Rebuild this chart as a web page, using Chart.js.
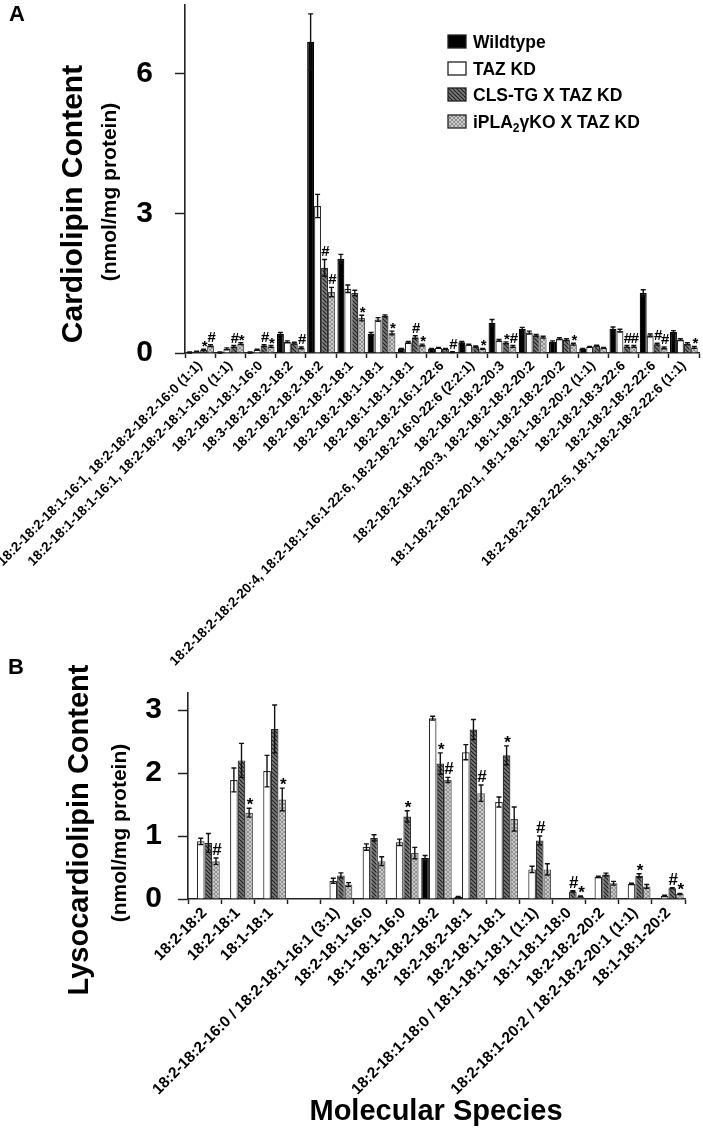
<!DOCTYPE html>
<html>
<head>
<meta charset="utf-8">
<script src="https://cdn.jsdelivr.net/npm/chart.js@4.4.0/dist/chart.umd.min.js"></script>
<style>
body { margin: 0; background: #fff; width: 703px; height: 1137px; overflow: hidden; position: relative; font-family: 'Liberation Sans', Arial, sans-serif; }
canvas { position: absolute; left: 0; }
#chartA { top: 0; }
#chartB { top: 600px; }
.lbl { position: absolute; font-weight: bold; color: #000; white-space: nowrap; line-height: 1; }
.rot { transform: translate(-50%, -50%) rotate(-90deg); }
</style>
</head>
<body>
<canvas id="chartA" width="703" height="680"></canvas>
<canvas id="chartB" width="703" height="537"></canvas>

<div class="lbl" style="left:9px;top:3px;font-size:22px">A</div>
<div class="lbl rot" style="left:72px;top:204px;font-size:30px">Cardiolipin Content</div>
<div class="lbl rot" style="left:108px;top:192px;font-size:21px">(nmol/mg protein)</div>

<div class="lbl" style="left:8px;top:656px;font-size:22px">B</div>
<div class="lbl rot" style="left:78px;top:830px;font-size:29px">Lysocardiolipin Content</div>
<div class="lbl rot" style="left:118px;top:833px;font-size:21px">(nmol/mg protein)</div>
<div class="lbl" style="left:436px;top:1110px;font-size:29px;transform:translate(-50%,-50%)">Molecular Species</div>

<script>
// ---- panel A: cardiolipin ----
var labelsA = [
  "18:2-18:2-18:1-16:1, 18:2-18:2-18:2-16:0 (1:1)",
  "18:2-18:1-18:1-16:1, 18:2-18:2-18:1-16:0 (1:1)",
  "18:2-18:1-18:1-16:0",
  "18:3-18:2-18:2-18:2",
  "18:2-18:2-18:2-18:2",
  "18:2-18:2-18:2-18:1",
  "18:2-18:2-18:1-18:1",
  "18:2-18:1-18:1-18:1",
  "18:2-18:2-16:1-22:6",
  "18:2-18:2-18:2-20:4, 18:2-18:1-16:1-22:6, 18:2-18:2-16:0-22:6 (2:2:1)",
  "18:2-18:2-18:2-20:3",
  "18:2-18:2-18:1-20:3, 18:2-18:2-18:2-20:2",
  "18:1-18:2-18:2-20:2",
  "18:1-18:2-18:2-20:1, 18:1-18:1-18:2-20:2 (1:1)",
  "18:2-18:2-18:3-22:6",
  "18:2-18:2-18:2-22:6",
  "18:2-18:2-18:2-22:5, 18:1-18:2-18:2-22:6 (1:1)"
];
var wtA   = [0.01, 0.01, 0.01, 0.41, 6.69, 2.02, 0.41, 0.09, 0.09, 0.23, 0.65, 0.52, 0.24, 0.09, 0.52, 1.29, 0.45];
var tazA  = [0.03, 0.09, 0.07, 0.24, 3.16, 1.38, 0.72, 0.23, 0.11, 0.18, 0.27, 0.44, 0.31, 0.13, 0.48, 0.38, 0.29];
var clsA  = [0.07, 0.14, 0.16, 0.21, 1.83, 1.29, 0.80, 0.34, 0.09, 0.14, 0.22, 0.38, 0.29, 0.16, 0.14, 0.19, 0.20];
var iplaA = [0.16, 0.20, 0.14, 0.11, 1.31, 0.75, 0.43, 0.17, 0.02, 0.09, 0.14, 0.34, 0.19, 0.11, 0.14, 0.11, 0.12];
var wtAErr   = [0.01, 0.01, 0.01, 0.03, 0.60, 0.10, 0.03, 0.01, 0.01, 0.02, 0.07, 0.03, 0.02, 0.01, 0.04, 0.07, 0.03];
var tazAErr  = [0.01, 0.02, 0.01, 0.02, 0.25, 0.08, 0.04, 0.02, 0.01, 0.01, 0.02, 0.03, 0.02, 0.01, 0.03, 0.03, 0.02];
var clsAErr  = [0.01, 0.02, 0.02, 0.02, 0.18, 0.06, 0.02, 0.03, 0.01, 0.01, 0.02, 0.02, 0.02, 0.01, 0.02, 0.02, 0.02];
var iplaAErr = [0.02, 0.02, 0.02, 0.02, 0.10, 0.06, 0.04, 0.02, 0.01, 0.01, 0.02, 0.02, 0.02, 0.01, 0.02, 0.02, 0.02];
var clsAMarks  = ["*", "#", "#", "", "#", "", "", "#", "", "", "*", "", "", "", "#", "#", ""];
var iplaAMarks = ["#", "*", "*", "#", "#", "*", "*", "*", "#", "*", "#", "", "*", "", "#", "#", "*"];
var yTicksA = [0, 3, 6];

// ---- panel B: lysocardiolipin ----
var labelsB = [
  "18:2-18:2",
  "18:2-18:1",
  "18:1-18:1",
  "",
  "18:2-18:2-16:0 / 18:2-18:1-16:1 (3:1)",
  "18:2-18:1-16:0",
  "18:1-18:1-16:0",
  "18:2-18:2-18:2",
  "18:2-18:2-18:1",
  "18:2-18:1-18:1",
  "18:2-18:1-18:0 / 18:1-18:1-18:1 (1:1)",
  "18:1-18:1-18:0",
  "18:2-18:2-20:2",
  "18:2-18:1-20:2 / 18:2-18:2-20:1 (1:1)",
  "18:1-18:1-20:2"
];
var wtB   = [null, null, null, null, null, null, null, 0.65, 0.03, null, null, null, null, null, null];
var tazB  = [0.915, 1.89, 2.03, null, 0.29, 0.825, 0.90, 2.87, 2.33, 1.54, 0.47, 0.01, 0.35, 0.24, 0.05];
var clsB  = [0.89, 2.20, 2.70, null, 0.375, 0.97, 1.31, 2.15, 2.69, 2.28, 0.93, 0.12, 0.39, 0.37, 0.17];
var iplaB = [0.60, 1.37, 1.58, null, 0.23, 0.60, 0.73, 1.89, 1.68, 1.27, 0.47, 0.04, 0.25, 0.20, 0.08];
var wtBErr   = [0, 0, 0, 0, 0, 0, 0, 0.04, 0.01, 0, 0, 0, 0, 0, 0];
var tazBErr  = [0.05, 0.19, 0.25, 0, 0.04, 0.05, 0.05, 0.03, 0.12, 0.08, 0.05, 0, 0.01, 0.01, 0.01];
var clsBErr  = [0.15, 0.27, 0.38, 0, 0.04, 0.05, 0.09, 0.17, 0.16, 0.15, 0.07, 0.01, 0.02, 0.03, 0.01];
var iplaBErr = [0.05, 0.07, 0.18, 0, 0.03, 0.07, 0.09, 0.04, 0.13, 0.19, 0.09, 0.01, 0.03, 0.03, 0.01];
var clsBMarks  = ["", "", "", "", "", "", "*", "*", "", "*", "#", "#", "", "*", "#"];
var iplaBMarks = ["#", "*", "*", "", "", "", "", "#", "#", "", "", "*", "", "", "*"];
var yTicksB = [0, 1, 2, 3];

var seriesNames = ["Wildtype", "TAZ KD", "CLS-TG X TAZ KD", "iPLA\u2082\u03B3KO X TAZ KD"];
var FONT = "'Liberation Sans', Arial, sans-serif";

function hatch(bg, fg, cross) {
  var c = document.createElement("canvas");
  c.width = 4; c.height = 4;
  var g = c.getContext("2d");
  g.fillStyle = bg;
  g.fillRect(0, 0, 4, 4);
  g.strokeStyle = fg;
  g.lineWidth = 1.1;
  g.beginPath();
  g.moveTo(-1, -1); g.lineTo(5, 5);
  g.moveTo(-1, 3); g.lineTo(1, 5);
  g.moveTo(3, -1); g.lineTo(5, 1);
  if (cross) {
    g.moveTo(5, -1); g.lineTo(-1, 5);
    g.moveTo(1, -1); g.lineTo(-1, 1);
    g.moveTo(5, 3); g.lineTo(3, 5);
  }
  g.stroke();
  return g.createPattern(c, "repeat");
}

var fills = ["#000000", "#ffffff", hatch("#7c7c7c", "#1e1e1e", false), hatch("#e2e2e2", "#8c8c8c", true)];
var borders = ["#000000", "#2a2a2a", "#2a2a2a", "#555555"];

function makeSets(values, errors, marks) {
  return values.map(function (v, i) {
    return {
      label: seriesNames[i],
      data: v,
      errors: errors[i],
      marks: marks[i],
      backgroundColor: fills[i],
      borderColor: borders[i],
      borderWidth: 1.2,
      borderSkipped: "bottom",
      categoryPercentage: 0.92,
      barPercentage: 1.0
    };
  });
}

var errorBars = {
  id: "errorBars",
  afterDatasetsDraw: function (chart, args, opts) {
    var ctx = chart.ctx, y = chart.scales.y;
    ctx.save();
    chart.data.datasets.forEach(function (ds, i) {
      chart.getDatasetMeta(i).data.forEach(function (bar, j) {
        var v = ds.data[j];
        if (v == null) return;
        var e = ds.errors[j] || 0;
        var top = y.getPixelForValue(v + e);
        if (e > 0) {
          var bot = y.getPixelForValue(Math.max(v - e, 0));
          var cap = 2.5;
          ctx.strokeStyle = "#111";
          ctx.lineWidth = 1.4;
          ctx.beginPath();
          ctx.moveTo(bar.x, top); ctx.lineTo(bar.x, bot);
          ctx.moveTo(bar.x - cap, top); ctx.lineTo(bar.x + cap, top);
          ctx.moveTo(bar.x - cap, bot); ctx.lineTo(bar.x + cap, bot);
          ctx.stroke();
        }
        var m = ds.marks[j];
        if (m) {
          ctx.fillStyle = "#000";
          ctx.textAlign = "center";
          ctx.textBaseline = "alphabetic";
          ctx.font = "bold " + (m === "*" ? opts.star : opts.hash) + "px " + FONT;
          ctx.fillText(m, bar.x + 1, top - (m === "*" ? -2 : 3));
        }
      });
    });
    ctx.restore();
  }
};

var legendA = {
  id: "legendA",
  afterDraw: function (chart) {
    var ctx = chart.ctx;
    var rows = [35, 62, 88, 115];
    ctx.save();
    chart.data.datasets.forEach(function (ds, i) {
      var top = rows[i];
      ctx.fillStyle = ds.backgroundColor;
      ctx.fillRect(448, top, 18, 13);
      ctx.strokeStyle = "#222";
      ctx.lineWidth = 1.3;
      ctx.strokeRect(448, top, 18, 13);
      ctx.fillStyle = "#000";
      ctx.textBaseline = "middle";
      ctx.textAlign = "left";
      var parts = ds.label.split("\u2082");
      var x = 473, ty = top + 8;
      ctx.font = "bold 17.5px " + FONT;
      ctx.fillText(parts[0], x, ty);
      if (parts.length > 1) {
        x += ctx.measureText(parts[0]).width;
        ctx.font = "bold 12px " + FONT;
        ctx.fillText("2", x, ty + 6);
        x += ctx.measureText("2").width;
        ctx.font = "bold 17.5px " + FONT;
        ctx.fillText(parts[1], x, ty);
      }
    });
    ctx.restore();
  }
};

function axes(opt) {
  return {
    x: {
      grid: { drawOnChartArea: false, drawTicks: true, tickLength: 5, tickColor: "#222", tickWidth: 1.5, offset: true },
      border: { color: "#222", width: 1.6 },
      ticks: { autoSkip: false, minRotation: 45, maxRotation: 45, padding: 0, color: "#000",
               font: { family: FONT, size: opt.labelSize, weight: "bold" } },
      afterFit: function (s) {
        s.height = opt.xHeight;
        s.paddingLeft = 0; s.paddingRight = 0; s.paddingTop = 0; s.paddingBottom = 0;
      }
    },
    y: {
      min: 0,
      max: opt.max,
      grid: { drawOnChartArea: false, drawTicks: true, tickLength: 10, tickColor: "#222", tickWidth: 1.5 },
      border: { color: "#222", width: 1.6 },
      ticks: { padding: opt.tickPad, color: "#000", font: { family: FONT, size: 30, weight: "bold" } },
      afterBuildTicks: function (s) {
        s.ticks = opt.ticks.map(function (v) { return { value: v }; });
      },
      afterFit: function (s) {
        s.width = opt.yWidth;
        s.paddingTop = 0; s.paddingBottom = 0;
      }
    }
  };
}

var chartA = new Chart(document.getElementById("chartA").getContext("2d"), {
  type: "bar",
  data: {
    labels: labelsA,
    datasets: makeSets([wtA, tazA, clsA, iplaA], [wtAErr, tazAErr, clsAErr, iplaAErr], [[], [], clsAMarks, iplaAMarks])
  },
  options: {
    responsive: false,
    animation: false,
    devicePixelRatio: 1,
    layout: { padding: { top: 5, right: 4, left: 0, bottom: 0 } },
    plugins: { legend: { display: false }, tooltip: { enabled: false }, errorBars: { hash: 15, star: 15 } },
    scales: axes({ max: 7.48, ticks: yTicksA, yWidth: 185, xHeight: 327, labelSize: 13.5, tickPad: 22 })
  },
  plugins: [errorBars, legendA]
});

var chartB = new Chart(document.getElementById("chartB").getContext("2d"), {
  type: "bar",
  data: {
    labels: labelsB,
    datasets: makeSets([wtB, tazB, clsB, iplaB], [wtBErr, tazBErr, clsBErr, iplaBErr], [[], [], clsBMarks, iplaBMarks])
  },
  options: {
    responsive: false,
    animation: false,
    devicePixelRatio: 1,
    layout: { padding: { top: 93, right: 18, left: 0, bottom: 0 } },
    plugins: { legend: { display: false }, tooltip: { enabled: false }, errorBars: { hash: 17, star: 17 } },
    scales: axes({ max: 3.27, ticks: yTicksB, yWidth: 188, xHeight: 238, labelSize: 15.5, tickPad: 16 })
  },
  plugins: [errorBars]
});
</script>
</body>
</html>
